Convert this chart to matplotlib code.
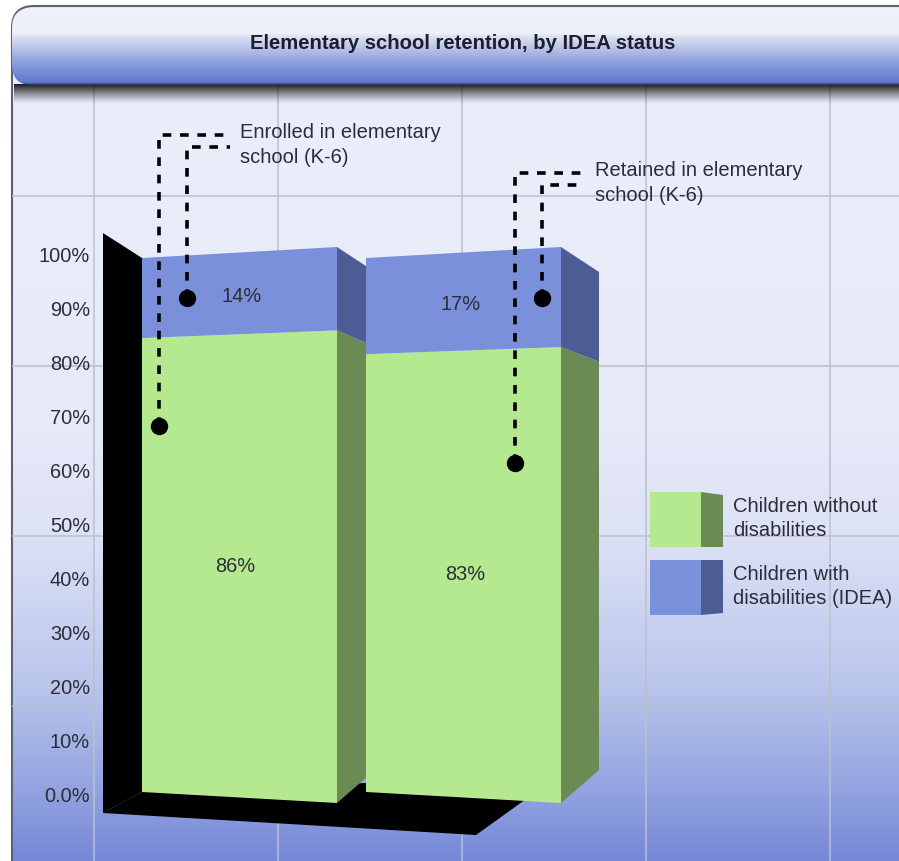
import numpy as np
import matplotlib
matplotlib.use('Agg')
import matplotlib.pyplot as plt
from matplotlib.colors import LinearSegmentedColormap
from matplotlib.patches import FancyBboxPatch, Polygon

plt.rcParams['font.family'] = ['Liberation Sans', 'DejaVu Sans']

title = 'Elementary school retention, by IDEA status'
tick_values = [0, 10, 20, 30, 40, 50, 60, 70, 80, 90, 100]
tick_labels = ['0.0%', '10%', '20%', '30%', '40%', '50%', '60%', '70%', '80%', '90%', '100%']
green_values = [86, 83]
blue_values = [14, 17]
# height of the green part as drawn, it sits a bit under the printed number
green_drawn = [85, 82]
callouts = ['Enrolled in elementary\nschool (K-6)', 'Retained in elementary\nschool (K-6)']
legend_labels = ['Children without\ndisabilities', 'Children with\ndisabilities (IDEA)']

GREEN, GREEN_SIDE = '#b5e98f', '#6b8b55'
BLUE, BLUE_SIDE = '#7b90da', '#4c5c94'
TEXT = '#2b2c38'
GRID = '#bcbfcd'


def py(p):
    # picture row -> value on the percent axis
    return (795 - p) / 5.4


fig = plt.figure(figsize=(8.99, 8.61), dpi=100)
ax = fig.add_axes([0, 0, 1, 1])
ax.set_facecolor('white')
for s in ax.spines.values():
    s.set_visible(False)
ax.set_axisbelow(False)

# panel background
aspect = 1 / 5.4
panel = FancyBboxPatch((12, py(900)), 950, py(6) - py(900), boxstyle='round,pad=0,rounding_size=22',
                       mutation_aspect=aspect, fc='none', ec='none', transform=ax.transData)
ax.add_patch(panel)
cmap = LinearSegmentedColormap.from_list('bg', [(0, '#eceffa'), (0.5, '#e6e9f8'), (0.62, '#dde2f5'),
                                                (0.8, '#b9c5eb'), (0.92, '#92a3e0'), (1, '#7688d8')])
bg = ax.imshow(np.linspace(0, 1, 400)[:, None], cmap=cmap, aspect='auto', extent=(0, 899, py(861), py(0)),
               origin='upper', zorder=0)
bg.set_clip_path(panel)
outline = FancyBboxPatch((12, py(900)), 950, py(6) - py(900), boxstyle='round,pad=0,rounding_size=22',
                         mutation_aspect=aspect, fc='none', ec='#5f6172', lw=1.5, zorder=0.5)
ax.add_patch(outline)

# grid behind the chart
ax.vlines([94, 278, 462, 646, 830], py(861), py(84), color=GRID, lw=1.1, zorder=1)
ax.hlines([py(196), py(366), py(536), py(706)], 12, 899, color=GRID, lw=1.1, zorder=1)

# header band
shadow = np.zeros((30, 1, 4))
shadow[:, 0, 3] = np.linspace(0.9, 0, 30) ** 1.2
ax.imshow(shadow, aspect='auto', extent=(14, 899, py(104), py(84)), origin='upper', zorder=1.5)
header = FancyBboxPatch((12, py(85)), 950, py(8) - py(85), boxstyle='round,pad=0,rounding_size=20',
                        mutation_aspect=aspect, fc='none', ec='none')
ax.add_patch(header)
hcmap = LinearSegmentedColormap.from_list('hd', [(0, '#f0f2fa'), (0.33, '#eef0f9'), (0.36, '#dfe3f3'),
                                                 (0.7, '#8fa1dd'), (0.97, '#5f78cf'), (1, '#30364f')])
hd = ax.imshow(np.linspace(0, 1, 200)[:, None], cmap=hcmap, aspect='auto', extent=(0, 899, py(85), py(8)),
               origin='upper', zorder=2)
hd.set_clip_path(header)
ax.text(463, py(44), title, ha='center', va='center', fontsize=14.55, fontweight='bold', color='#1c1e2c', zorder=6)

ax.set_xlim(0, 899)
ax.set_ylim(py(861), py(0))
ax.set_xticks([])
ax.set_yticks(tick_values)
ax.set_yticklabels(tick_labels)
ax.tick_params(axis='y', length=0, pad=-64.8, labelsize=14.4, labelcolor=TEXT)

# walls: black back corner and floor
ax.add_patch(Polygon([(103, py(233)), (142, py(258)), (142, py(792)), (103, py(813))], fc='black', zorder=3))
ax.add_patch(Polygon([(103, py(813)), (142, py(792)), (366, py(783)), (540, py(790)), (522, py(802)), (476, py(835))],
                     fc='black', zorder=3))


def y_at(v, t):
    # front face is slightly skewed, t runs 0..1 from left to right of the bar
    low = py(792) + (py(803) - py(792)) * t
    high = py(258) + (py(247) - py(258)) * t
    return low + (high - low) * v / 100


def side_point(x, v):
    # back corner of the side face
    dy = 33 / 5.4 + (-25 / 5.4 - 33 / 5.4) * v / 100
    return x + 38, y_at(v, 1) + dy


def draw_segment(x0, x1, v0, v1, front, side, z):
    ax.add_patch(Polygon([(x1, y_at(v0, 1)), side_point(x1, v0), side_point(x1, v1), (x1, y_at(v1, 1))],
                         fc=side, ec='none', zorder=z))
    ax.add_patch(Polygon([(x0, y_at(v0, 0)), (x1, y_at(v0, 1)), (x1, y_at(v1, 1)), (x0, y_at(v1, 0))],
                         fc=front, ec='none', zorder=z + 0.1))


bar_left = [142, 366]
bar_right = [337, 561]
nudge = 0.6
for i in range(2):
    z = 3.2 + i
    draw_segment(bar_left[i], bar_right[i], 0, green_drawn[i], GREEN, GREEN_SIDE, z)
    draw_segment(bar_left[i], bar_right[i], green_drawn[i], 100, BLUE, BLUE_SIDE, z + 0.2)
    mid = (bar_left[i] + bar_right[i]) / 2
    ax.text(mid - 4 + 6 * i, green_values[i] / 2 - nudge, f'{green_values[i]}%', ha='center', va='center',
            fontsize=14.4, color=TEXT, zorder=6)

ax.text(242, green_values[0] + blue_values[0] / 2 - nudge, f'{blue_values[0]}%', ha='center', va='center',
        fontsize=14.4, color=TEXT, zorder=6)
ax.text(461, green_values[1] + blue_values[1] / 2 - nudge, f'{blue_values[1]}%', ha='center', va='center',
        fontsize=14.4, color=TEXT, zorder=6)

# dashed callouts with dots
leaders = [(159, 426, 135, 230), (187, 298, 147, 230), (515, 463, 173, 585), (542, 298, 185, 585)]
for x, dot, top, end in leaders:
    ax.plot([x, x, end], [py(dot), py(top), py(top)], color='black', lw=2.6, dashes=(2.4, 2.4), zorder=6)
    ax.plot([x], [py(dot)], 'o', color='black', ms=11.5, zorder=6)
ax.text(240, py(145), callouts[0], ha='left', va='center', fontsize=14.5, color=TEXT, linespacing=1.45, zorder=6)
ax.text(595, py(183), callouts[1], ha='left', va='center', fontsize=14.5, color=TEXT, linespacing=1.45, zorder=6)

# legend swatches
swatches = [(492, 547, 495, 547, GREEN, GREEN_SIDE), (560, 615, 560, 613, BLUE, BLUE_SIDE)]
for j, (top, bot, stop, sbot, front, side) in enumerate(swatches):
    ax.add_patch(Polygon([(650, py(top)), (701, py(top)), (701, py(bot)), (650, py(bot))], fc=front, zorder=4))
    ax.add_patch(Polygon([(701, py(top)), (723, py(stop)), (723, py(sbot)), (701, py(bot))], fc=side, zorder=4))
    ax.text(733, py((top + bot) / 2 - 1), legend_labels[j], ha='left', va='center', fontsize=14.5, color=TEXT,
            linespacing=1.4, zorder=6)

fig.savefig('out.png', dpi=100)
